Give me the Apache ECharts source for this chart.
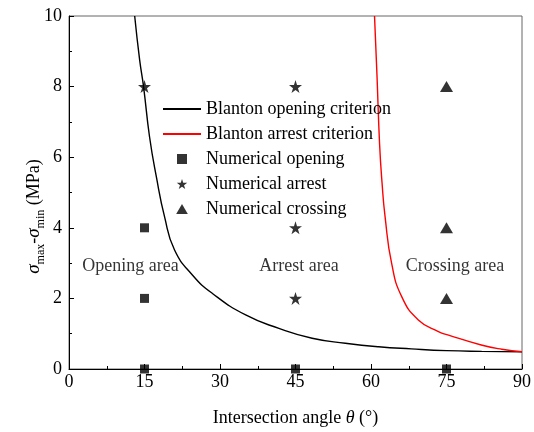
<!DOCTYPE html>
<html>
<head>
<meta charset="utf-8">
<script src="https://cdn.jsdelivr.net/npm/echarts@6/dist/echarts.min.js"></script>
<style>html,body{margin:0;padding:0;background:#fff}#c{width:534px;height:432px}</style>
</head>
<body>
<div id="c"></div>
<script>
// Data
var openingCurve = [[13.05,10],[14.04,8.75],[14.83,7.98],[16.0,6.58],[17.35,5.45],[18.99,4.31],[20.97,3.37],[24.6,2.65],[28.5,2.14],[35.1,1.53],[41.7,1.15],[48.3,0.87],[54.9,0.73],[61.5,0.63],[68,0.57],[75,0.52],[82,0.5],[90,0.49]];
var arrestCurve = [[60.7,10],[61.2,8.28],[61.7,6.39],[62.2,5.26],[62.8,4.31],[64.1,2.99],[66.1,2.05],[69.4,1.39],[73.4,1.06],[75.4,0.96],[81.9,0.68],[86,0.56],[90,0.49]];
var numOpening = [[15,0],[15,2],[15,4],[45,0],[75,0]];
var numArrest = [[15,8],[45,8],[45,4],[45,2]];
var numCrossing = [[75,8],[75,4],[75,2]];
var xTicks = {min:0, max:90, interval:15};
var yTicks = {min:0, max:10, interval:2};
var areaLabels = [['Opening area',12.2,2.9],['Arrest area',45.7,2.9],['Crossing area',76.7,2.9]];
var seriesNames = ['Blanton opening criterion','Blanton arrest criterion','Numerical opening','Numerical arrest','Numerical crossing'];

var FONT = "'Liberation Serif','Times New Roman',serif";
var FS = 18;
var STAR = 'path://M50,0 L61.2,34.5 L97.6,34.5 L68.2,55.9 L79.4,90.5 L50,69.1 L20.6,90.5 L31.8,55.9 L2.4,34.5 L38.8,34.5 Z';
var SQUARE = 'path://M0,0 L10,0 L10,10 L0,10 Z';
var TRIANGLE = 'path://M50,0 L100,86 L0,86 Z';
var chart = echarts.init(document.getElementById('c'), null, {renderer:'canvas'});
var option = {
  animation:false,
  backgroundColor:'#fff',
  textStyle:{fontFamily:FONT, color:'#000'},
  grid:{left:69, right:11, top:16, bottom:63, show:true, borderColor:'#666', borderWidth:1, backgroundColor:'transparent'},
  legend:{
    orient:'vertical', left:157, top:95, itemWidth:38, itemHeight:10, itemGap:7,
    symbolKeepAspect:true,
    textStyle:{fontFamily:FONT, fontSize:FS, color:'#000'},
    data:seriesNames
  },
  xAxis:{
    type:'value', min:xTicks.min, max:xTicks.max, interval:xTicks.interval,
    name:'Intersection angle {i|θ} (°)', nameLocation:'middle', nameGap:40, nameMoveOverlap:false,
    nameTextStyle:{fontFamily:FONT, fontSize:FS, color:'#000', rich:{i:{fontStyle:'italic', fontFamily:FONT, fontSize:FS}}},
    axisLine:{show:true, lineStyle:{color:'#000', width:1}},
    axisTick:{show:true, inside:true, length:5, lineStyle:{color:'#000'}},
    minorTick:{show:true, splitNumber:2, length:3, lineStyle:{color:'#000'}},
    axisLabel:{fontFamily:FONT, fontSize:FS, color:'#000', margin:4},
    splitLine:{show:false}
  },
  yAxis:{
    type:'value', min:yTicks.min, max:yTicks.max, interval:yTicks.interval,
    name:'{s|σ}{sub|max}{t|-}{s|σ}{sub|min}{t| (MPa)}', nameLocation:'middle', nameGap:22, nameMoveOverlap:false,
    nameTextStyle:{fontFamily:FONT, fontSize:FS, color:'#000', padding:[0,48,0,0],
      rich:{
        s:{fontFamily:FONT, fontStyle:'italic', fontSize:19, lineHeight:26, verticalAlign:'middle'},
        t:{fontFamily:FONT, fontSize:FS, lineHeight:26, verticalAlign:'middle'},
        sub:{fontFamily:FONT, fontSize:12, lineHeight:26, verticalAlign:'bottom', padding:[9,0,0,0]}
      }},
    axisLine:{show:true, lineStyle:{color:'#000', width:1}},
    axisTick:{show:true, inside:true, length:5, lineStyle:{color:'#000'}},
    minorTick:{show:true, splitNumber:2, length:3, lineStyle:{color:'#000'}},
    axisLabel:{fontFamily:FONT, fontSize:FS, color:'#000', margin:7},
    splitLine:{show:false}
  },
  series:[
    {name:seriesNames[0], type:'line', data:openingCurve, symbol:'none', smooth:0.5, lineStyle:{color:'#000', width:1.4}, itemStyle:{color:'rgba(0,0,0,0)'}, clip:true},
    {name:seriesNames[1], type:'line', data:arrestCurve, symbol:'none', smooth:0.5, lineStyle:{color:'#ff0000', width:1.4}, itemStyle:{color:'rgba(0,0,0,0)'}, clip:true},
    {name:seriesNames[2], type:'scatter', data:numOpening, symbol:SQUARE, symbolSize:9, itemStyle:{color:'#000'}, clip:false, z:5},
    {name:seriesNames[3], type:'scatter', data:numArrest, symbol:STAR, symbolSize:13, itemStyle:{color:'#000'}, z:5},
    {name:seriesNames[4], type:'scatter', data:numCrossing, symbol:TRIANGLE, symbolSize:[13,11], itemStyle:{color:'#000'}, z:5},
    {type:'scatter', silent:true, symbolSize:0, data:areaLabels.map(function(a){return {value:[a[1],a[2]], name:a[0]};}),
      label:{show:true, position:'inside', formatter:'{b}', fontFamily:FONT, fontSize:FS, color:'#000'}, z:6}
  ]
};
chart.setOption(option);
</script>
</body>
</html>
